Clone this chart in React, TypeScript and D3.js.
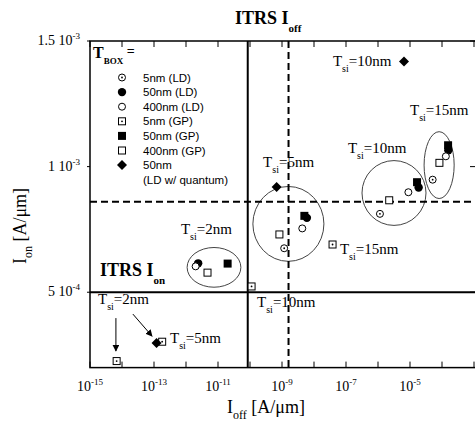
import React from 'react';
import * as d3 from 'd3';

const W = 475;
const H = 422;

// Measured devices: I_off [A/µm] and I_on [A/µm] for each buried-oxide thickness / doping
const ld5Ioff = [1.17e-9, 1.15e-6, 5.1e-5];
const ld5Ion = [6.75e-4, 8.12e-4, 9.48e-4];
const ld50Ioff = [2.4e-12, 6.0e-9, 1.86e-5, 1.58e-4];
const ld50Ion = [6.15e-4, 7.96e-4, 9.17e-4, 10.65e-4];
const ld400Ioff = [2.0e-12, 4.3e-9, 8.9e-6, 1.32e-4];
const ld400Ion = [6.03e-4, 7.54e-4, 8.98e-4, 10.41e-4];
const gp5Ioff = [6.8e-15, 1.8e-13, 1.12e-10, 3.8e-8];
const gp5Ion = [2.26e-4, 3.03e-4, 5.23e-4, 6.9e-4];
const gp50Ioff = [2.0e-11, 5.0e-9, 1.66e-5, 1.55e-4];
const gp50Ion = [6.14e-4, 8.04e-4, 9.38e-4, 10.85e-4];
const gp400Ioff = [4.7e-12, 8.3e-10, 2.24e-6, 8.3e-5];
const gp400Ion = [5.78e-4, 7.3e-4, 8.66e-4, 10.15e-4];
const qIoff = [1.2e-13, 6.8e-10, 6.5e-6];
const qIon = [2.98e-4, 9.19e-4, 14.18e-4];

const seriesNames = ['5nm (LD)', '50nm (LD)', '400nm (LD)', '5nm (GP)', '50nm (GP)', '400nm (GP)', '50nm'];
const seriesKinds = ['dotCircle', 'fillCircle', 'openCircle', 'dotSquare', 'fillSquare', 'openSquare', 'diamond'];
const seriesIoff = [ld5Ioff, ld50Ioff, ld400Ioff, gp5Ioff, gp50Ioff, gp400Ioff, qIoff];
const seriesIon = [ld5Ion, ld50Ion, ld400Ion, gp5Ion, gp50Ion, gp400Ion, qIon];

// ITRS targets
const itrsIon = 5e-4;
const itrsIoff = 8.5e-11;
const dashedIon = 8.6e-4;
const dashedIoff = 1.6e-9;

// Axis ticks
const xTickExps = d3.range(-15, -2);
const xLabelExps = [-15, -13, -11, -9, -7, -5];
const yTickVals = [1.5e-3, 1e-3, 5e-4];
const yTickMant = ['1.5', '1', '5'];
const yTickExp = ['-3', '-3', '-4'];

// Silicon-thickness groupings: centre (log10 I_off, I_on), radii (decades, A/µm)
const ellCx = [-11.125, -8.8, -5.5, -4.09];
const ellCy = [5.99e-4, 7.72e-4, 8.95e-4, 10.06e-4];
const ellRx = [0.84, 1.11, 1.0, 0.47];
const ellRy = [0.79e-4, 1.49e-4, 1.29e-4, 1.33e-4];

// T_si annotations: anchor (log10 I_off, I_on) and thickness text
const tsiLx = [-12.16, -9.59, -6.94, -5.0, -7.41, -7.19, -9.78, -14.75, -12.5];
const tsiLy = [7.3e-4, 10.0e-4, 10.55e-4, 12.06e-4, 14.0e-4, 6.51e-4, 4.4e-4, 4.52e-4, 2.98e-4];
const tsiText = ['=2nm', '=5nm', '=10nm', '=15nm', '=10nm', '=15nm', '=10nm', '=2nm', '=5nm'];

// Arrows from the lower T_si=2nm note
const arrowX0 = [-14.19, -13.66];
const arrowY0 = [3.97e-4, 4.13e-4];
const arrowX1 = [-14.19, -13.06];
const arrowY1 = [2.66e-4, 3.25e-4];

const SERIF = "'Liberation Serif', 'Times New Roman', serif";
const SANS = "'Liberation Sans', Arial, sans-serif";

const x = d3.scaleLog().domain([1e-15, 1e-3]).range([90, 474]);
const y = d3.scaleLinear().domain([2e-4, 1.5e-3]).range([367.6, 41]);
const lx = (e: number) => x(Math.pow(10, e));

function Marker({ kind, cx, cy }: { kind: string; cx: number; cy: number }) {
  const s = 3.5;
  switch (kind) {
    case 'dotCircle':
      return (
        <g>
          <circle cx={cx} cy={cy} r={s} fill="#fff" stroke="#000" strokeWidth={1} />
          <circle cx={cx} cy={cy} r={0.9} fill="#000" />
        </g>
      );
    case 'fillCircle':
      return <circle cx={cx} cy={cy} r={4.2} fill="#000" />;
    case 'openCircle':
      return <circle cx={cx} cy={cy} r={s} fill="#fff" stroke="#000" strokeWidth={1} />;
    case 'dotSquare':
      return (
        <g>
          <rect x={cx - s} y={cy - s} width={2 * s} height={2 * s} fill="#fff" stroke="#000" strokeWidth={1} />
          <circle cx={cx} cy={cy} r={0.9} fill="#000" />
        </g>
      );
    case 'fillSquare':
      return <rect x={cx - 4} y={cy - 4} width={8} height={8} fill="#000" />;
    case 'openSquare':
      return <rect x={cx - s} y={cy - s} width={2 * s} height={2 * s} fill="#fff" stroke="#000" strokeWidth={1} />;
    case 'diamond':
      return <path d={`M${cx},${cy - 5}L${cx + 5},${cy}L${cx},${cy + 5}L${cx - 5},${cy}Z`} fill="#000" />;
    default:
      return null;
  }
}

function TsiLabel({ px, py, text }: { px: number; py: number; text: string }) {
  return (
    <text x={px} y={py} fontFamily={SERIF} fontSize={15} fill="#000">
      <tspan>T</tspan>
      <tspan dy={6} fontSize={10}>si</tspan>
      <tspan dy={-6}>{text}</tspan>
    </text>
  );
}

export default function App() {
  const left = 90;
  const right = 478;
  const top = y(1.5e-3);
  const bottom = y(2e-4);

  return (
    <svg width={W} height={H} style={{ position: 'absolute', left: 0, top: 0, background: '#fff' }}>
      <defs>
        <marker id="ah" viewBox="0 0 10 10" refX="9" refY="5" markerWidth="7" markerHeight="7" orient="auto">
          <path d="M0,0L10,5L0,10Z" fill="#000" />
        </marker>
      </defs>
      <rect width={W} height={H} fill="#fff" />

      {/* Title */}
      <text x={235} y={24} fontFamily={SERIF} fontSize={18} fontWeight="bold">
        <tspan>ITRS I</tspan>
        <tspan dy={8} fontSize={11}>off</tspan>
      </text>

      {/* Grouping ellipses */}
      {ellCx.map((c, i) => {
        const cx = lx(c);
        const cy = y(ellCy[i]);
        const rx = lx(c + ellRx[i]) - cx;
        const ry = cy - y(ellCy[i] + ellRy[i]);
        return <ellipse key={'e' + i} cx={cx} cy={cy} rx={rx} ry={ry} fill="none" stroke="#444" strokeWidth={1} />;
      })}

      {/* ITRS reference lines */}
      <line x1={left} x2={right} y1={y(itrsIon)} y2={y(itrsIon)} stroke="#000" strokeWidth={2} />
      <line x1={x(itrsIoff)} x2={x(itrsIoff)} y1={top} y2={bottom} stroke="#000" strokeWidth={2} />
      <line x1={left} x2={right} y1={y(dashedIon)} y2={y(dashedIon)} stroke="#000" strokeWidth={2} strokeDasharray="7,4" />
      <line x1={x(dashedIoff)} x2={x(dashedIoff)} y1={top} y2={bottom} stroke="#000" strokeWidth={2} strokeDasharray="7,4" />

      {/* Frame */}
      <rect x={left} y={top} width={right - left} height={bottom - top} fill="none" stroke="#000" strokeWidth={1.5} />

      {/* X ticks (top and bottom, inward) */}
      {xTickExps.map((e) => (
        <g key={'xt' + e}>
          <line x1={lx(e)} x2={lx(e)} y1={bottom} y2={bottom - 6} stroke="#000" strokeWidth={1} />
          <line x1={lx(e)} x2={lx(e)} y1={top} y2={top + 6} stroke="#000" strokeWidth={1} />
        </g>
      ))}
      {xLabelExps.map((e) => (
        <text key={'xl' + e} x={lx(e)} y={391} textAnchor="middle" fontFamily={SERIF} fontSize={14}>
          <tspan>10</tspan>
          <tspan dy={-6} fontSize={9}>{String(e)}</tspan>
        </text>
      ))}

      {/* Y ticks */}
      {yTickVals.map((v, i) => (
        <g key={'yt' + i}>
          <line x1={left - 3} x2={left} y1={y(v)} y2={y(v)} stroke="#000" strokeWidth={1} />
          <line x1={right - 8} x2={right} y1={y(v)} y2={y(v)} stroke="#000" strokeWidth={1} />
          <text x={80} y={y(v) + 4} textAnchor="end" fontFamily={SERIF} fontSize={14}>
            <tspan>{yTickMant[i] + ' 10'}</tspan>
            <tspan dy={-6} fontSize={9}>{yTickExp[i]}</tspan>
          </text>
        </g>
      ))}

      {/* Axis titles */}
      <text x={266} y={413} textAnchor="middle" fontFamily={SERIF} fontSize={18}>
        <tspan>I</tspan>
        <tspan dy={6} fontSize={12}>off</tspan>
        <tspan dy={-6}> [A/μm]</tspan>
      </text>
      <text transform="translate(26,226) rotate(-90)" textAnchor="middle" fontFamily={SERIF} fontSize={18}>
        <tspan>I</tspan>
        <tspan dy={6} fontSize={12}>on</tspan>
        <tspan dy={-6}> [A/μm]</tspan>
      </text>

      {/* ITRS I_on label */}
      <text x={100} y={276} fontFamily={SERIF} fontSize={18} fontWeight="bold">
        <tspan>ITRS I</tspan>
        <tspan dy={8} fontSize={11}>on</tspan>
      </text>

      {/* Arrows */}
      {arrowX0.map((a, i) => (
        <line key={'ar' + i} x1={lx(a)} y1={y(arrowY0[i])} x2={lx(arrowX1[i])} y2={y(arrowY1[i])}
          stroke="#000" strokeWidth={1} markerEnd="url(#ah)" />
      ))}

      {/* T_si annotations */}
      {tsiText.map((t, i) => (
        <TsiLabel key={'ts' + i} px={lx(tsiLx[i])} py={y(tsiLy[i])} text={t} />
      ))}

      {/* Data points */}
      {seriesKinds.map((k, si) =>
        seriesIoff[si].map((xo, j) => (
          <Marker key={k + j} kind={k} cx={x(xo)} cy={y(seriesIon[si][j])} />
        ))
      )}

      {/* Legend */}
      <g>
        <text x={93} y={58} fontFamily={SERIF} fontSize={16} fontWeight="bold">
          <tspan>T</tspan>
          <tspan dy={6} fontSize={9}>BOX</tspan>
          <tspan dy={-8} fontSize={14}> =</tspan>
        </text>
        {seriesNames.map((n, i) => {
          const ry = 77.5 + i * 14.6;
          return (
            <g key={'lg' + i}>
              <Marker kind={seriesKinds[i]} cx={122} cy={ry} />
              <text x={143} y={ry + 4} fontFamily={SANS} fontSize={11.5}>{n}</text>
            </g>
          );
        })}
        <text x={143} y={77.5 + 7 * 14.6 + 4} fontFamily={SANS} fontSize={11.5}>(LD w/ quantum)</text>
      </g>
    </svg>
  );
}
